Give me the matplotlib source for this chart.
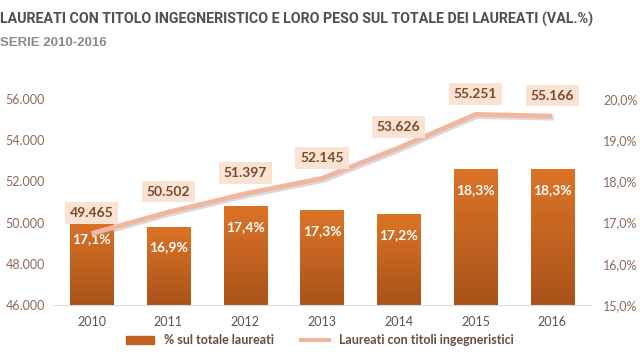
import matplotlib
matplotlib.use("Agg")
import matplotlib.pyplot as plt
import matplotlib.patheffects as pe
from matplotlib.colors import LinearSegmentedColormap
from matplotlib.patches import Patch
from matplotlib.lines import Line2D
import numpy as np

# data
anni = ["2010", "2011", "2012", "2013", "2014", "2015", "2016"]
perc = [17.1, 16.9, 17.4, 17.3, 17.2, 18.3, 18.3]
laureati = [49465, 50502, 51397, 52145, 53626, 55251, 55166]

plt.rcParams['font.family'] = ['Lato', 'DejaVu Sans']

brown_txt = "#7a4a2c"
tick_col = "#8c6b5a"
box_col = "#fae3d2"
line_col = "#f0b7a0"

fig = plt.figure(figsize=(6.4, 3.6), dpi=100)
ax = fig.add_axes([0.083, 0.153, 0.84, 0.572])
ax2 = ax.twinx()

x = np.arange(len(anni))

# bars (percent) on ax, drawn with a vertical gradient
cmap = LinearSegmentedColormap.from_list("arancio", ["#a9531a", "#dc7427"])
bars = ax.bar(x, perc, width=0.56, bottom=0, color="none", edgecolor="none")
grad = np.linspace(0, 1, 100).reshape(-1, 1)
for b in bars:
    x0 = b.get_x()
    x1 = x0 + b.get_width()
    h = b.get_height()
    im = ax.imshow(grad, extent=[x0, x1, 15, h], origin="lower",
                   aspect="auto", cmap=cmap, zorder=2)
    im.set_clip_path(b)
ax.set_xlim(-0.5, 6.5)
ax.set_ylim(15, 20)

for i, p in enumerate(perc):
    ax.text(i, p - 0.5, f"{p:.1f}%".replace(".", ","), ha="center", va="center",
            color="white", fontsize=10, fontweight="bold", zorder=5)

# line (counts) on the twin axis so it sits above the bars
ax2.plot(x, laureati, color=line_col, lw=3.5, solid_capstyle="butt", zorder=3,
         path_effects=[pe.SimpleLineShadow(offset=(1, -1.5), shadow_color="#999999", alpha=0.35),
                       pe.Normal()])
ax2.set_ylim(46000, 56000)
for i, v in enumerate(laureati):
    ax2.text(i, v + 1000, f"{v:,}".replace(",", "."), ha="center", va="center",
             color=brown_txt, fontsize=10, fontweight="bold", zorder=6,
             bbox=dict(boxstyle="square,pad=0.35", fc=box_col, ec="none"))

# swap tick sides: counts left, percent right
ax.yaxis.tick_right()
ax2.yaxis.tick_left()
ax.set_yticks(np.arange(15, 20.1, 1))
ax.set_yticklabels([f"{v:.1f}%".replace(".", ",") for v in np.arange(15, 20.1, 1)])
ax2.set_yticks(np.arange(46000, 56001, 2000))
ax2.set_yticklabels([f"{v:,}".replace(",", ".") for v in range(46000, 56001, 2000)])

ax.set_xticks(x)
ax.set_xticklabels(anni)
for a in (ax, ax2):
    a.tick_params(length=0, labelsize=9, labelcolor=tick_col)
    for s in a.spines.values():
        s.set_visible(False)
ax.tick_params(axis="x", labelcolor="#555555", pad=8)
ax.tick_params(axis="y", pad=9)
ax2.tick_params(axis="y", pad=6)
ax.spines["bottom"].set_visible(True)
ax.spines["bottom"].set_color("#d9dde3")

# legend
handles = [Patch(color="#c0621f"), Line2D([0], [0], color=line_col, lw=3)]
fig.legend(handles, ["% sul totale laureati", "Laureati con titoli ingegneristici"],
           loc="center", bbox_to_anchor=(0.5, 0.055), ncol=2, frameon=False,
           handlelength=2.2, handleheight=0.6, columnspacing=2.2,
           prop=dict(family=['Lato', 'DejaVu Sans'], weight="bold", size=9),
           labelcolor="#6a4a3a")

# titles
title = fig.text(0.0, 0.945, "LAUREATI CON TITOLO INGEGNERISTICO E LORO PESO SUL TOTALE DEI LAUREATI (VAL.%)",
                 fontsize=14, fontweight="bold", color="#505050", va="center",
                 family=['Roboto', 'DejaVu Sans'])
# shrink the title so it spans about 600 px like the reference
fig.canvas.draw()
w = title.get_window_extent().width
title.set_fontsize(14 * 600 / w)
fig.text(0.0, 0.88, "SERIE 2010-2016", fontsize=9.5, fontweight="bold",
         color="#8a8a8a", va="center", family=['Liberation Sans', 'DejaVu Sans'])

fig.savefig("out.png", dpi=100)
